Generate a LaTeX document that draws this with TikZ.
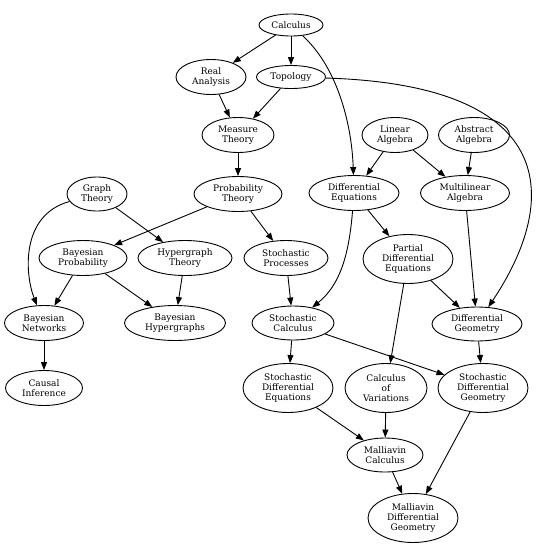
\documentclass[tikz,border=0pt]{standalone}
\usepackage{fontspec}
\setmainfont{DejaVu Serif}
\usepackage{tikz}
\usetikzlibrary{shapes.geometric, arrows.meta}

\begin{document}
\begin{tikzpicture}[
    x=1pt, y=-1pt,
    topic/.style={ellipse, draw=black, line width=0.9pt, inner sep=1pt, align=center,
                  font=\fontsize{9}{9.8}\selectfont},
    edge/.style={-{Triangle[length=8pt,width=6pt]}, line width=0.9pt, color=black}
]
\useasboundingbox (0,0) rectangle (540,547);
\node[topic, minimum width=64pt, minimum height=22pt] (cal) at (291,25) {Calculus};
\node[topic, minimum width=70pt, minimum height=35pt] (ra)  at (211,77) {Real\\Analysis};
\node[topic, minimum width=69pt, minimum height=23pt] (top) at (291,77) {Topology};
\node[topic, minimum width=72pt, minimum height=35pt] (mt)  at (238,135) {Measure\\Theory};
\node[topic, minimum width=66pt, minimum height=35pt] (la)  at (395,135) {Linear\\Algebra};
\node[topic, minimum width=71pt, minimum height=35pt] (aa)  at (474,135) {Abstract\\Algebra};
\node[topic, minimum width=60pt, minimum height=34pt] (gt)  at (97,194) {Graph\\Theory};
\node[topic, minimum width=88pt, minimum height=35pt] (pt)  at (238,194) {Probability\\Theory};
\node[topic, minimum width=90pt, minimum height=35pt] (de)  at (354,193) {Differential\\Equations};
\node[topic, minimum width=89pt, minimum height=35pt] (ma)  at (465,193) {Multilinear\\Algebra};
\node[topic, minimum width=88pt, minimum height=35pt] (bp)  at (83,258) {Bayesian\\Probability};
\node[topic, minimum width=94pt, minimum height=35pt] (ht)  at (185,258) {Hypergraph\\Theory};
\node[topic, minimum width=84pt, minimum height=35pt] (sp)  at (286,258) {Stochastic\\Processes};
\node[topic, minimum width=90pt, minimum height=49pt] (pde) at (408,259) {Partial\\Differential\\Equations};
\node[topic, minimum width=79pt, minimum height=35pt] (bn)  at (44,323) {Bayesian\\Networks};
\node[topic, minimum width=101pt, minimum height=35pt] (bh) at (175,323) {Bayesian\\Hypergraphs};
\node[topic, minimum width=82pt, minimum height=34pt] (sc)  at (293,323) {Stochastic\\Calculus};
\node[topic, minimum width=90pt, minimum height=34pt] (dg)  at (477,324) {Differential\\Geometry};
\node[topic, minimum width=77pt, minimum height=35pt] (ci)  at (44,388) {Causal\\Inference};
\node[topic, minimum width=90pt, minimum height=49pt] (sde) at (288,388) {Stochastic\\Differential\\Equations};
\node[topic, minimum width=82pt, minimum height=49pt] (cv)  at (386,388) {Calculus\\of\\Variations};
\node[topic, minimum width=90pt, minimum height=49pt] (sdg) at (483,388) {Stochastic\\Differential\\Geometry};
\node[topic, minimum width=76pt, minimum height=34pt] (mc)  at (385,455) {Malliavin\\Calculus};
\node[topic, minimum width=90pt, minimum height=49pt] (mdg) at (413,518) {Malliavin\\Differential\\Geometry};
\draw[edge] (cal) -- (ra);
\draw[edge] (cal) -- (top);
\draw[edge] (cal) .. controls (340,70) and (352,130) .. (de);
\draw[edge] (ra) -- (mt);
\draw[edge] (top) -- (mt);
\draw[edge] (top) .. controls (560,85) and (560,200) .. (dg);
\draw[edge] (mt) -- (pt);
\draw[edge] (la) -- (de);
\draw[edge] (la) -- (ma);
\draw[edge] (aa) -- (ma);
\draw[edge] (gt) .. controls (20,215) and (25,275) .. (bn);
\draw[edge] (gt) -- (ht);
\draw[edge] (pt) -- (bp);
\draw[edge] (pt) -- (sp);
\draw[edge] (de) -- (pde);
\draw[edge] (de) .. controls (349,255) and (340,285) .. (sc);
\draw[edge] (ma) -- (dg);
\draw[edge] (bp) -- (bn);
\draw[edge] (bp) -- (bh);
\draw[edge] (ht) -- (bh);
\draw[edge] (sp) -- (sc);
\draw[edge] (pde) -- (dg);
\draw[edge] (pde) -- (cv);
\draw[edge] (bn) -- (ci);
\draw[edge] (sc) -- (sde);
\draw[edge] (sc) -- (sdg);
\draw[edge] (dg) -- (sdg);
\draw[edge] (sde) -- (mc);
\draw[edge] (cv) -- (mc);
\draw[edge] (sdg) -- (mdg);
\draw[edge] (mc) -- (mdg);
\end{tikzpicture}
\end{document}
